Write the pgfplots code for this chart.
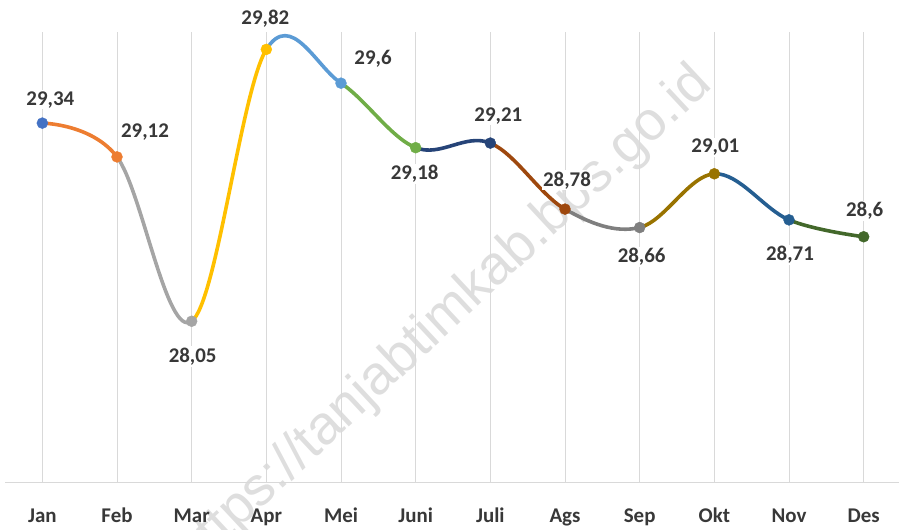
\documentclass[border=0pt]{standalone}
\usepackage{fontspec}
\setmainfont{Carlito}
\newfontfamily\wmfont{Liberation Sans}
\usepackage{pgfplots}
\usepackage{pgfplotstable}
\pgfplotsset{compat=1.18}

\definecolor{m1}{HTML}{4472C4}
\definecolor{m2}{HTML}{ED7D31}
\definecolor{m3}{HTML}{A5A5A5}
\definecolor{m4}{HTML}{FFC000}
\definecolor{m5}{HTML}{5B9BD5}
\definecolor{m6}{HTML}{70AD47}
\definecolor{m7}{HTML}{264478}
\definecolor{m8}{HTML}{9E480E}
\definecolor{m9}{HTML}{7F7F7F}
\definecolor{m10}{HTML}{997300}
\definecolor{m11}{HTML}{255E91}
\definecolor{m12}{HTML}{43682B}
\definecolor{labgray}{HTML}{383838}
\definecolor{gridgray}{HTML}{D9D9D9}

% x, value, label text, marker class, label offset (bp)
\pgfplotstableread{
x  y     lab    cls  dx  dy
0  29.34 29,34  m1    8   18
1  29.12 29,12  m2   28   19
2  28.05 28,05  m3    1  -41
3  29.82 29,82  m4   -1   25
4  29.60 29,6   m5   32   19
5  29.18 29,18  m6   -1  -32
6  29.21 29,21  m7    8   22
7  28.78 28,78  m8    2   23
8  28.66 28,66  m9    2  -35
9  29.01 29,01  m10   1   21
10 28.71 28,71  m11   1  -41
11 28.60 28,6   m12   1   20
}\datatab

% one coloured piece of the smooth curve, between x=#1 and x=#2
\newcommand\seg[3]{%
  \begin{scope}
    \clip (axis cs:#1,26) rectangle (axis cs:#2,31);
    \addplot[#3, line width=3.6bp, smooth, tension=0.6, mark=none]
      table[x=x, y=y] {\datatab};
  \end{scope}}

\begin{document}
\begin{tikzpicture}
\useasboundingbox (0,0) rectangle (899bp,530bp);

% watermark
\node[rotate=43, text=black!13, font=\wmfont\fontsize{55}{60}\selectfont]
  at (444bp,211bp) {https://tanjabtimkab.bps.go.id};

\begin{axis}[
    at={(5bp,47.5bp)}, anchor=south west,
    scale only axis,
    width=896bp, height=450bp,
    xmin=-0.5, xmax=11.5,
    ymin=27, ymax=29.93,
    clip=false,
    axis x line=bottom,
    axis y line=none,
    axis line style={draw=gridgray, line width=1.5bp, -},
    xtick={0,...,11},
    xticklabels={Jan,Feb,Mar,Apr,Mei,Juni,Juli,Ags,Sep,Okt,Nov,Des},
    ytick=\empty,
    major tick length=0pt,
    xmajorgrids,
    grid style={draw=gridgray, line width=1bp},
    xticklabel style={anchor=base, yshift=-39.5bp, text=labgray,
        font=\fontsize{21}{25}\selectfont\bfseries},
]

\seg{0}{1}{m2}
\seg{1}{2}{m3}
\seg{2}{3}{m4}
\seg{3}{4}{m5}
\seg{4}{5}{m6}
\seg{5}{6}{m7}
\seg{6}{7}{m8}
\seg{7}{8}{m9}
\seg{8}{9}{m10}
\seg{9}{10}{m11}
\seg{10}{11}{m12}

% markers
\addplot[scatter, only marks, mark=*, mark size=5.5bp,
    scatter src=explicit symbolic,
    scatter/classes={
      m1={mark=*, draw=m1, fill=m1}, m2={mark=*, draw=m2, fill=m2},
      m3={mark=*, draw=m3, fill=m3}, m4={mark=*, draw=m4, fill=m4},
      m5={mark=*, draw=m5, fill=m5}, m6={mark=*, draw=m6, fill=m6},
      m7={mark=*, draw=m7, fill=m7}, m8={mark=*, draw=m8, fill=m8},
      m9={mark=*, draw=m9, fill=m9}, m10={mark=*, draw=m10, fill=m10},
      m11={mark=*, draw=m11, fill=m11}, m12={mark=*, draw=m12, fill=m12}}]
  table[x=x, y=y, meta=cls] {\datatab};

% data labels
\addplot[draw=none, mark=none,
    nodes near coords,
    point meta=explicit symbolic,
    visualization depends on={\thisrow{dx}\as\dx},
    visualization depends on={\thisrow{dy}\as\dy},
    nodes near coords style={anchor=base, xshift=\dx bp, yshift=\dy bp,
        fill=white, inner sep=1.5bp, text=labgray,
        font=\fontsize{21}{25}\selectfont\bfseries}]
  table[x=x, y=y, meta=lab] {\datatab};

\end{axis}
\end{tikzpicture}
\end{document}
